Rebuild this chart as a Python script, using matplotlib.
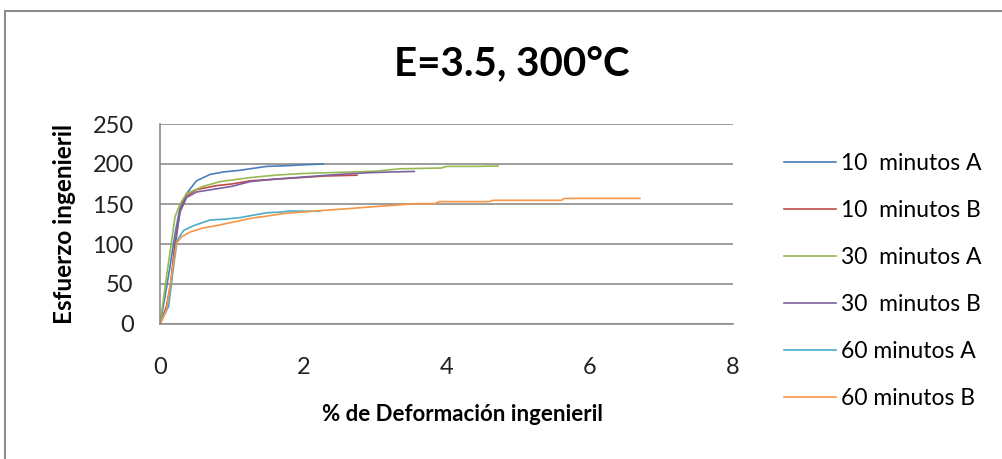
import matplotlib
matplotlib.use("Agg")
import matplotlib.pyplot as plt
from matplotlib.patches import Rectangle

# ---- data ----
labels = ["10  minutos A", "10  minutos B", "30  minutos A",
          "30  minutos B", "60 minutos A", "60 minutos B"]
colors = ["#4A7EBB", "#BE4B48", "#98B954", "#7D60A0", "#4BACC6", "#F79646"]

x_10A = [0, 0.07, 0.14, 0.21, 0.28, 0.37, 0.51, 0.70, 0.88, 1.1, 1.49, 1.8, 2.0, 2.28]
y_10A = [0, 34, 72, 113, 146, 163, 179, 187, 190, 192, 197, 198, 199, 200]

x_10B = [0, 0.09, 0.15, 0.21, 0.28, 0.37, 0.51, 0.79, 1.0, 1.26, 1.6, 1.96, 2.3, 2.75]
y_10B = [0, 22, 51, 101, 142, 160, 168, 173, 175, 179, 181, 183, 185, 186]

x_30A = [0, 0.04, 0.09, 0.15, 0.21, 0.28, 0.37, 0.6, 0.84, 1.26, 1.6, 1.96, 2.3,
         2.65, 3.0, 3.35, 3.93, 4.0, 4.4, 4.72]
y_30A = [0, 26, 59, 96, 134, 150, 163, 172, 178, 183, 186, 188, 189,
         190, 191, 194, 195, 197, 197, 197.5]

x_30B = [0, 0.09, 0.15, 0.21, 0.28, 0.37, 0.51, 0.79, 1.0, 1.26, 1.6, 2.19, 2.5,
         2.89, 3.2, 3.55]
y_30B = [0, 20, 48, 98, 140, 158, 165, 169, 172, 178, 181, 185, 187,
         189, 190, 190.7]

x_60A = [0, 0.12, 0.19, 0.24, 0.33, 0.47, 0.7, 0.9, 1.12, 1.3, 1.49, 1.7, 1.82, 2.0, 2.23]
y_60A = [0, 22, 72, 105, 117, 123, 130, 131, 133, 136, 139, 140, 141.3, 141, 141]

x_60B = [0, 0.09, 0.16, 0.23, 0.3, 0.42, 0.6, 0.79, 1.0, 1.26, 1.5, 1.72, 2.0, 2.28,
         2.6, 2.89, 3.2, 3.59, 3.84, 3.9, 4.6, 4.65, 5.6, 5.65, 6.7]
y_60B = [0, 18, 59, 101, 109, 115, 120, 123, 127, 132, 135, 138, 140, 142,
         144, 146, 148, 150.5, 150.5, 153, 153, 154.6, 154.6, 157, 157]

xs = [x_10A, x_10B, x_30A, x_30B, x_60A, x_60B]
ys = [y_10A, y_10B, y_30A, y_30B, y_60A, y_60B]

x_ticks = [0, 2, 4, 6, 8]
y_ticks = [0, 50, 100, 150, 200, 250]

title = "E=3.5, 300°C"
xlabel = "% de Deformación ingenieril"
ylabel = "Esfuerzo ingenieril"

# ---- figure ----
plt.rcParams['font.family'] = ['Lato', 'DejaVu Sans']
W, H = 1003, 459
fig = plt.figure(figsize=(W / 100, H / 100), dpi=100)

# outer chart border (left/top visible)
fig.patches.append(Rectangle((5.5 / W, -0.1), 2, 1 - 11 / H + 0.1,
                             transform=fig.transFigure, fill=False,
                             edgecolor="#8c8c8c", linewidth=1.5))

ax = fig.add_axes([160 / W, 1 - 324 / H, (733 - 160) / W, (324 - 124) / H])
for xx, yy, c, lab in zip(xs, ys, colors, labels):
    ax.plot(xx, yy, color=c, linewidth=1.2, label=lab)

ax.set_xlim(0, 8)
ax.set_ylim(0, 250)
ax.set_xticks(x_ticks)
ax.set_yticks(y_ticks)
ax.grid(axis='y', color="#8c8c8c", linewidth=1.2)
ax.set_axisbelow(True)
for s in ["top", "right"]:
    ax.spines[s].set_visible(False)
for s in ["left", "bottom"]:
    ax.spines[s].set_color("#8c8c8c")
    ax.spines[s].set_linewidth(1.2)
ax.tick_params(length=0, labelsize=17, colors="#222222")
ax.tick_params(axis='y', pad=19)
ax.tick_params(axis='x', pad=24)

ax.set_xlabel(xlabel, fontsize=16, fontweight='bold')
ax.set_ylabel(ylabel, fontsize=17.5, fontweight='bold')
ax.xaxis.set_label_coords((462 - 160) / 573, (324 - 404) / 200)
ax.yaxis.set_label_coords((76 - 160) / 573, 0.5)

fig.text(512 / W, 1 - 64 / H, title, ha='center', va='center',
         fontsize=29, fontweight='bold')

leg = ax.legend(loc='upper left', bbox_to_anchor=(763 / W, 1 - 132.5 / H),
                bbox_transform=fig.transFigure, frameon=False, fontsize=16.5,
                handlelength=2.3, handletextpad=0.22, labelspacing=1.13)

fig.savefig("out.png", dpi=100, facecolor="white")
